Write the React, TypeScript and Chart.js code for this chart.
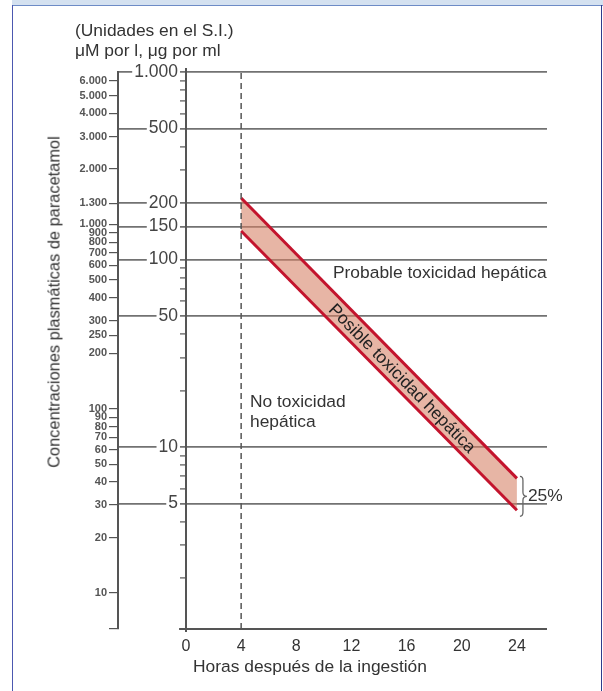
import { useEffect, useRef } from 'react';
import { Chart, registerables } from 'chart.js';

Chart.register(...registerables);

// ---- data ----
const hourTicks = [0, 4, 8, 12, 16, 20, 24];
const mainTicks = [1000, 500, 200, 150, 100, 50, 10, 5];
const minorTicks = [900, 800, 700, 600, 400, 300, 90, 80, 70, 60, 40, 30, 20, 9, 8, 7, 6, 4, 3, 2];
const micromolarTicks = [6000, 5000, 4000, 3000, 2000, 1300, 1000, 900, 800, 700, 600, 500, 400, 300, 250, 200, 100, 90, 80, 70, 60, 50, 40, 30, 20, 10];
const thresholdHour = 4;
const bandHours = [4, 24];
const upperLine = [213, 6.8];
const lowerLine = [142, 4.6];

// ---- scale ranges ----
const X_MIN = -4.93;
const X_MAX = 26.18;
const Y_MIN = 1.07;
const Y_MAX = 1000;
const UM_MIN = 6.38;
const UM_MAX = 6715;
const LABEL_AXIS_AT = -0.58; // where the μg/ml labels end (just left of hour 0)

const FONT = '"Liberation Sans", Arial, Helvetica, sans-serif';
const AXIS = '#555';
const GRID = '#727272';
const RED = '#c3142d';
const PINK = 'rgba(214,128,100,0.58)';
const TEXT = '#333';

const fmt = (v: number) => String(v).replace(/\B(?=(\d{3})+(?!\d))/g, '.');
const isMain = (v: number) => mainTicks.includes(v);

const annotations = {
  probable: { x: 10.66, y: 84, text: 'Probable toxicidad hepática' },
  noTox: { x: 4.64, y1: 17.4, y2: 13.6, l1: 'No toxicidad', l2: 'hepática' },
  posible: { x: 15.7, text: 'Posible toxicidad hepática' },
  percent: '25%',
};

const annotatePlugin = {
  id: 'annotate',
  beforeDatasetsDraw(chart: any) {
    const { ctx, chartArea } = chart;
    const x = chart.scales.x;
    ctx.save();
    ctx.strokeStyle = AXIS;
    ctx.lineWidth = 2;
    // vertical μg/ml axis at hour 0
    const x0 = Math.round(x.getPixelForValue(0));
    ctx.beginPath();
    ctx.moveTo(x0, chartArea.top - 4);
    ctx.lineTo(x0, chartArea.bottom + 3);
    ctx.stroke();
    // x axis line (starts just left of hour 0)
    ctx.beginPath();
    ctx.moveTo(x.getPixelForValue(-0.5), chartArea.bottom);
    ctx.lineTo(chartArea.right, chartArea.bottom);
    ctx.stroke();
    ctx.restore();
  },
  afterDatasetsDraw(chart: any) {
    const { ctx } = chart;
    const x = chart.scales.x;
    const y = chart.scales.y;
    ctx.save();

    ctx.fillStyle = TEXT;
    ctx.font = `17.4px ${FONT}`;
    ctx.textBaseline = 'middle';
    ctx.textAlign = 'left';
    const p = annotations.probable;
    ctx.fillText(p.text, x.getPixelForValue(p.x), y.getPixelForValue(p.y));
    const n = annotations.noTox;
    ctx.fillText(n.l1, x.getPixelForValue(n.x), y.getPixelForValue(n.y1));
    ctx.fillText(n.l2, x.getPixelForValue(n.x), y.getPixelForValue(n.y2));

    // band geometry
    const ux1 = x.getPixelForValue(bandHours[0]);
    const ux2 = x.getPixelForValue(bandHours[1]);
    const uy1 = y.getPixelForValue(upperLine[0]);
    const uy2 = y.getPixelForValue(upperLine[1]);
    const ly1 = y.getPixelForValue(lowerLine[0]);
    const ly2 = y.getPixelForValue(lowerLine[1]);
    const angle = Math.atan2(uy2 - uy1, ux2 - ux1);
    const px = x.getPixelForValue(annotations.posible.x);
    const t = (px - ux1) / (ux2 - ux1);
    const cy = (uy1 + (uy2 - uy1) * t + (ly1 + (ly2 - ly1) * t)) / 2;
    ctx.save();
    ctx.translate(px, cy);
    ctx.rotate(angle);
    ctx.textAlign = 'center';
    ctx.fillStyle = '#222';
    ctx.font = `17.4px ${FONT}`;
    ctx.fillText(annotations.posible.text, 0, 1);
    ctx.restore();

    // brace at the end of the band
    const bx = ux2 + 6;
    const top = uy2 - 2;
    const bot = ly2 + 6;
    const mid = (top + bot) / 2;
    ctx.strokeStyle = '#666';
    ctx.lineWidth = 1.3;
    ctx.beginPath();
    ctx.moveTo(bx - 3, top);
    ctx.quadraticCurveTo(bx, top, bx, top + 4);
    ctx.lineTo(bx, mid - 4);
    ctx.quadraticCurveTo(bx, mid, bx + 4, mid);
    ctx.quadraticCurveTo(bx, mid, bx, mid + 4);
    ctx.lineTo(bx, bot - 4);
    ctx.quadraticCurveTo(bx, bot, bx - 3, bot);
    ctx.stroke();
    ctx.fillStyle = TEXT;
    ctx.font = `17.4px ${FONT}`;
    ctx.textAlign = 'left';
    ctx.fillText(annotations.percent, bx + 5, mid);

    ctx.restore();
  },
};

export default function App() {
  const ref = useRef<HTMLCanvasElement>(null);

  useEffect(() => {
    if (!ref.current) return;
    const chart = new Chart(ref.current, {
      type: 'line',
      data: {
        datasets: [
          {
            data: [
              { x: thresholdHour, y: Y_MIN },
              { x: thresholdHour, y: Y_MAX },
            ],
            borderColor: AXIS,
            borderWidth: 1.5,
            borderDash: [6, 4],
            pointRadius: 0,
            fill: false,
          },
          {
            data: bandHours.map((h, i) => ({ x: h, y: upperLine[i] })),
            borderColor: RED,
            borderWidth: 3,
            pointRadius: 0,
            fill: false,
          },
          {
            data: bandHours.map((h, i) => ({ x: h, y: lowerLine[i] })),
            borderColor: RED,
            borderWidth: 3,
            pointRadius: 0,
            backgroundColor: PINK,
            fill: '-1',
          },
        ],
      },
      options: {
        animation: false,
        responsive: false,
        layout: { padding: { top: 72, right: 56, bottom: 0, left: 0 } },
        plugins: {
          legend: { display: false },
          tooltip: { enabled: false },
          title: { display: false },
        },
        scales: {
          x: {
            type: 'linear',
            min: X_MIN,
            max: X_MAX,
            grid: { display: false, drawTicks: false },
            border: { display: false },
            afterBuildTicks: (s: any) => {
              s.ticks = hourTicks.map((v) => ({ value: v }));
            },
            afterFit: (s: any) => {
              s.height = 62;
            },
            ticks: {
              autoSkip: false,
              maxRotation: 0,
              padding: 8,
              color: TEXT,
              font: { family: FONT, size: 16 },
            },
          },
          y: {
            type: 'logarithmic',
            position: { x: 0 },
            min: Y_MIN,
            max: Y_MAX,
            afterBuildTicks: (s: any) => {
              s.ticks = [...mainTicks, ...minorTicks].map((v) => ({ value: v }));
            },
            grid: {
              color: (c: any) => (c.tick && isMain(c.tick.value) ? GRID : 'rgba(0,0,0,0)'),
              lineWidth: 1.8,
              tickColor: (c: any) => (c.tick && isMain(c.tick.value) ? 'rgba(0,0,0,0)' : AXIS),
              tickLength: 6,
              tickWidth: 1.2,
            },
            border: { display: false },
            ticks: {
              autoSkip: false,
              callback: () => '',
            },
          },
          yLabel: {
            type: 'logarithmic',
            position: { x: LABEL_AXIS_AT },
            min: Y_MIN,
            max: Y_MAX,
            afterBuildTicks: (s: any) => {
              s.ticks = mainTicks.map((v) => ({ value: v }));
            },
            grid: { display: false, drawTicks: false },
            border: { display: false },
            ticks: {
              autoSkip: false,
              padding: 0,
              color: '#444',
              font: { family: FONT, size: 17.5 },
              callback: (v: any) => fmt(Number(v)),
              showLabelBackdrop: true,
              backdropColor: '#ffffff',
              backdropPadding: { x: 2, y: 0 },
            },
          },
          um: {
            type: 'logarithmic',
            position: 'left',
            min: UM_MIN,
            max: UM_MAX,
            afterBuildTicks: (s: any) => {
              s.ticks = [...micromolarTicks, UM_MIN].map((v) => ({ value: v }));
            },
            afterFit: (s: any) => {
              s.width = 118;
            },
            grid: { drawOnChartArea: false, color: AXIS, tickLength: 9, lineWidth: 1.2 },
            border: { color: AXIS, width: 2 },
            ticks: {
              autoSkip: false,
              padding: 2,
              color: '#555',
              font: { family: FONT, size: 11, weight: 'bold' },
              callback: (v: any) => (micromolarTicks.includes(Number(v)) ? fmt(Number(v)) : ''),
            },
          },
        },
      } as any,
      plugins: [annotatePlugin],
    });
    return () => chart.destroy();
  }, []);

  return (
    <div
      style={{
        position: 'absolute',
        left: 0,
        top: 0,
        width: 603,
        height: 691,
        background: '#fff',
        overflow: 'hidden',
        fontFamily: FONT,
        color: TEXT,
      }}
    >
      <div style={{ position: 'absolute', left: 12, top: 0, width: 591, height: 5, background: '#d4e1f0' }} />
      <div style={{ position: 'absolute', left: 12, top: 4.5, width: 591, height: 1.5, background: '#6d8bc6' }} />
      <div style={{ position: 'absolute', left: 11.5, top: 5, width: 1.5, height: 686, background: '#4c58b0' }} />
      <div style={{ position: 'absolute', left: 600.5, top: 5, width: 1.5, height: 686, background: '#2f3b8c' }} />
      <canvas ref={ref} width={603} height={691} style={{ position: 'absolute', left: 0, top: 0, display: 'block' }} />
      <div style={{ position: 'absolute', left: 75, top: 21, fontSize: 17.4, lineHeight: '19.5px', whiteSpace: 'nowrap' }}>
        <div>(Unidades en el S.I.)</div>
        <div>μM por l, μg por ml</div>
      </div>
      <div
        style={{
          position: 'absolute',
          left: 54,
          top: 302,
          fontSize: 16.4,
          whiteSpace: 'nowrap',
          transform: 'translate(-50%, -50%) rotate(-90deg)',
        }}
      >
        Concentraciones plasmáticas de paracetamol
      </div>
      <div style={{ position: 'absolute', left: 193, top: 656, fontSize: 17.4, whiteSpace: 'nowrap' }}>
        Horas después de la ingestión
      </div>
    </div>
  );
}
